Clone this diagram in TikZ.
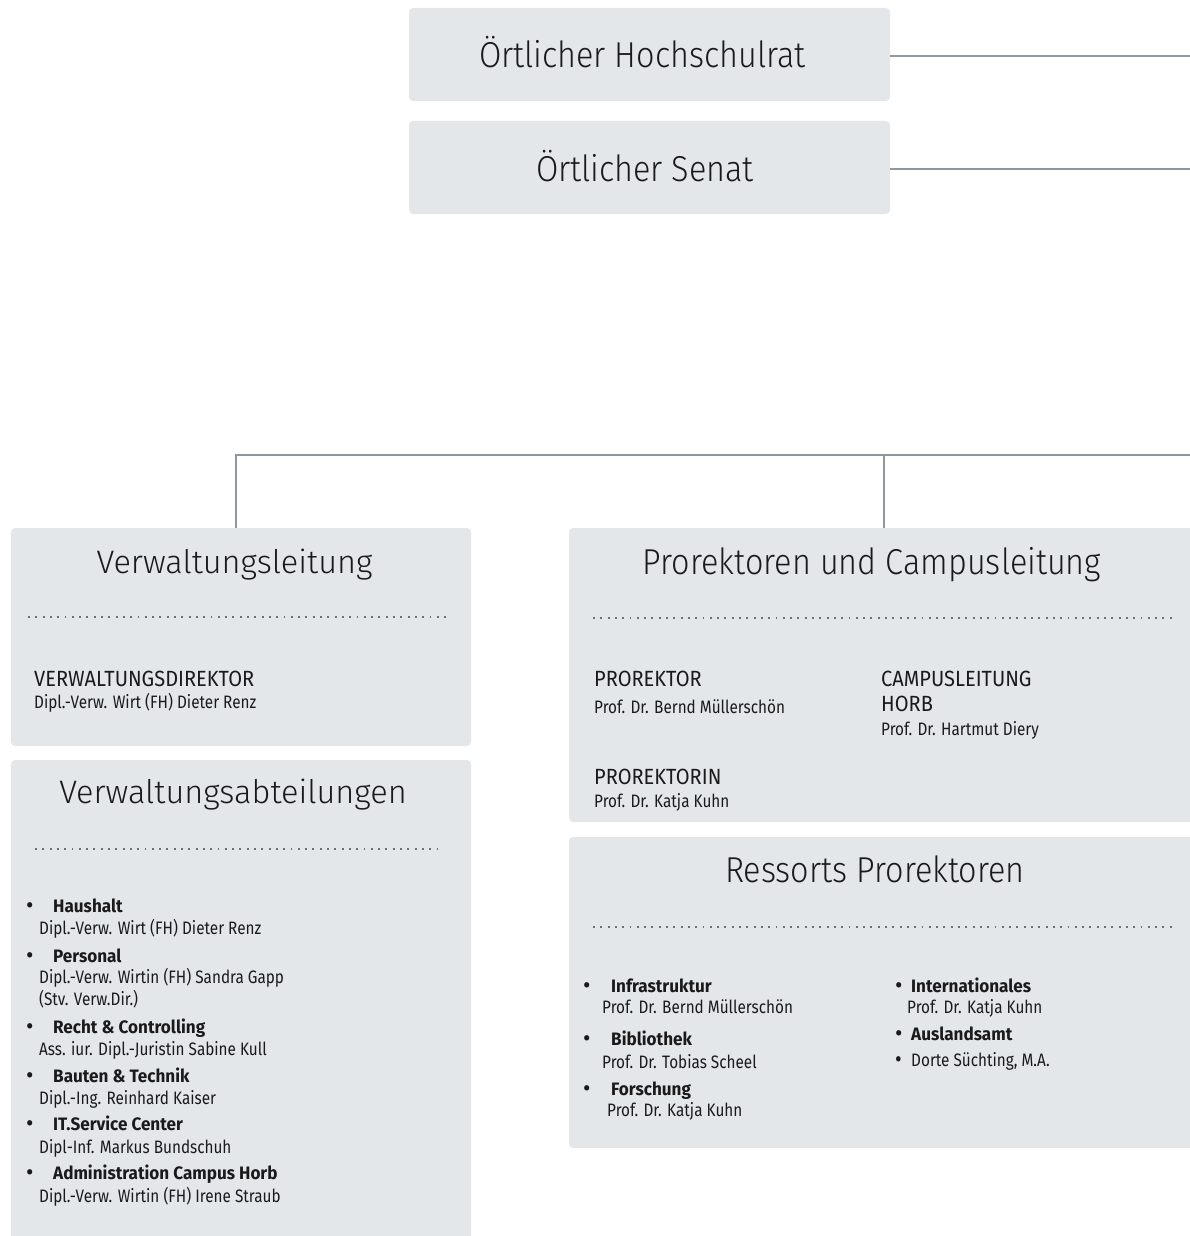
\documentclass[tikz,border=0pt]{standalone}
\usepackage{fontspec}
\setmainfont{Fira Sans}
\newfontfamily\cf[FakeStretch=0.85]{Fira Sans}
\newfontfamily\cfcaps[FakeStretch=0.91]{Fira Sans}
\newfontfamily\cfb[FakeStretch=0.95]{Fira Sans}
\newfontfamily\lt[FakeStretch=0.9]{Fira Sans Light}
\newfontfamily\ltw{Fira Sans Light}
\definecolor{boxfill}{HTML}{E4E7EA}
\definecolor{conn}{HTML}{8E989E}
\definecolor{dotc}{HTML}{6A7277}
\definecolor{ink}{HTML}{1A1A1A}
\newcommand{\blt}[1]{\makebox[#1][l]{\raisebox{-1.5pt}{\mdseries\fontsize{24}{20}\selectfont•}}}
\begin{document}
\begin{tikzpicture}[x=1pt,y=-1pt,
  orgbox/.style={fill=boxfill, rounded corners=4pt, draw=none, inner sep=0pt, outer sep=0pt},
  connector/.style={draw=conn, line width=2pt},
  sep/.style={draw=dotc, line width=1.9pt, dash pattern=on 1.9pt off 5.4pt},
  ttl/.style={inner sep=0pt, anchor=base, text=ink},
  bigttl/.style={ttl, font=\lt\fontsize{36}{40}\selectfont},
  secttl/.style={ttl, font=\ltw\fontsize{32.5}{38}\selectfont},
  txt/.style={inner sep=0pt, anchor=base west, text=ink},
  caps/.style={txt, font=\cfcaps\fontsize{22}{24}\selectfont},
  nm/.style={txt, font=\cf\fontsize{18}{20}\selectfont},
  itm/.style={txt, font=\cfb\fontsize{18}{20}\selectfont\bfseries},
]
\useasboundingbox (0,0) rectangle (1190,1236);
\clip (0,0) rectangle (1190,1236);

% boxes
\node[orgbox, minimum width=481pt, minimum height=93pt] (hr) at (649.5,54.5) {};
\node[orgbox, minimum width=481pt, minimum height=93pt] (se) at (649.5,167.5) {};
\node[orgbox, minimum width=460pt, minimum height=218pt] (vl) at (241,637) {};
\node[orgbox, minimum width=460pt, minimum height=490pt] (va) at (241,1005) {};
\node[orgbox, minimum width=630pt, minimum height=294pt] (pk) at (884,675) {};
\node[orgbox, minimum width=630pt, minimum height=311pt] (rp) at (884,992.5) {};

% connectors
\coordinate (hrEnd) at (1190,56.5);
\coordinate (seEnd) at (1190,168.5);
\coordinate (busEnd) at (1190,455);
\draw[connector] (hr.east |- hrEnd) -- (hrEnd);
\draw[connector] (se.east |- seEnd) -- (seEnd);
\draw[connector] ([xshift=-5pt]vl.north) |- (busEnd);
\draw[connector] (pk.north) -- (pk.north |- busEnd);

% titles
\node[bigttl] (hrT) at (642.5,68) {Örtlicher Hochschulrat};
\node[bigttl] (seT) at (645,181) {Örtlicher Senat};
\node[secttl] (vlT) at (234.5,573) {Verwaltungsleitung};
\node[secttl] (vaT) at (233,803) {Verwaltungsabteilungen};
\node[bigttl] (pkT) at (872,574) {Prorektoren und Campusleitung};
\node[bigttl] (rpT) at (875,882) {Ressorts Prorektoren};

% dotted separators
\draw[sep] (28,617) -- (447,617);
\draw[sep] (35,849) -- (437,849);
\draw[sep] (593,618) -- (1172,618);
\draw[sep] (593,927) -- (1172,927);

% Verwaltungsleitung
\node[caps] (vd) at (34,686) {VERWALTUNGSDIREKTOR};
\node[nm] (vdn) at (34,708) {Dipl.-Verw. Wirt (FH) Dieter Renz};

% Verwaltungsabteilungen
\node[itm] (a1) at (26,912) {\blt{27pt}Haushalt};
\node[nm] (a1n) at (39,934) {Dipl.-Verw. Wirt (FH) Dieter Renz};
\node[itm] (a2) at (26,962) {\blt{27pt}Personal};
\node[nm] (a2n) at (39,983) {Dipl.-Verw. Wirtin (FH) Sandra Gapp};
\node[nm] (a2m) at (39,1005) {(Stv. Verw.Dir.)};
\node[itm] (a3) at (26,1033) {\blt{27pt}Recht \& Controlling};
\node[nm] (a3n) at (39,1055) {Ass. iur. Dipl.-Juristin Sabine Kull};
\node[itm] (a4) at (26,1082) {\blt{27pt}Bauten \& Technik};
\node[nm] (a4n) at (39,1104) {Dipl.-Ing. Reinhard Kaiser};
\node[itm] (a5) at (26,1130) {\blt{27pt}IT.Service Center};
\node[nm] (a5n) at (39,1153) {Dipl-Inf. Markus Bundschuh};
\node[itm] (a6) at (26,1179) {\blt{27pt}Administration Campus Horb};
\node[nm] (a6n) at (39,1202) {Dipl.-Verw. Wirtin (FH) Irene Straub};

% Prorektoren und Campusleitung
\node[caps] (p1) at (594,686) {PROREKTOR};
\node[nm] (p1n) at (594,713) {Prof. Dr. Bernd Müllerschön};
\node[caps] (c1) at (881,686) {CAMPUSLEITUNG};
\node[caps] (c1b) at (881,711) {HORB};
\node[nm] (c1n) at (881,735) {Prof. Dr. Hartmut Diery};
\node[caps] (p2) at (594,784) {PROREKTORIN};
\node[nm] (p2n) at (594,807) {Prof. Dr. Katja Kuhn};

% Ressorts Prorektoren
\node[itm] (r1) at (583,992) {\blt{28pt}Infrastruktur};
\node[nm] (r1n) at (602,1013) {Prof. Dr. Bernd Müllerschön};
\node[itm] (r2) at (583,1045) {\blt{28pt}Bibliothek};
\node[nm] (r2n) at (602,1068) {Prof. Dr. Tobias Scheel};
\node[itm] (r3) at (583,1095) {\blt{28pt}Forschung};
\node[nm] (r3n) at (607,1116) {Prof. Dr. Katja Kuhn};
\node[itm] (r4) at (895,992) {\blt{16pt}Internationales};
\node[nm] (r4n) at (907,1013) {Prof. Dr. Katja Kuhn};
\node[itm] (r5) at (895,1040) {\blt{16pt}Auslandsamt};
\node[nm] (r6) at (895,1066) {\blt{16pt}Dorte Süchting, M.A.};
\end{tikzpicture}
\end{document}
